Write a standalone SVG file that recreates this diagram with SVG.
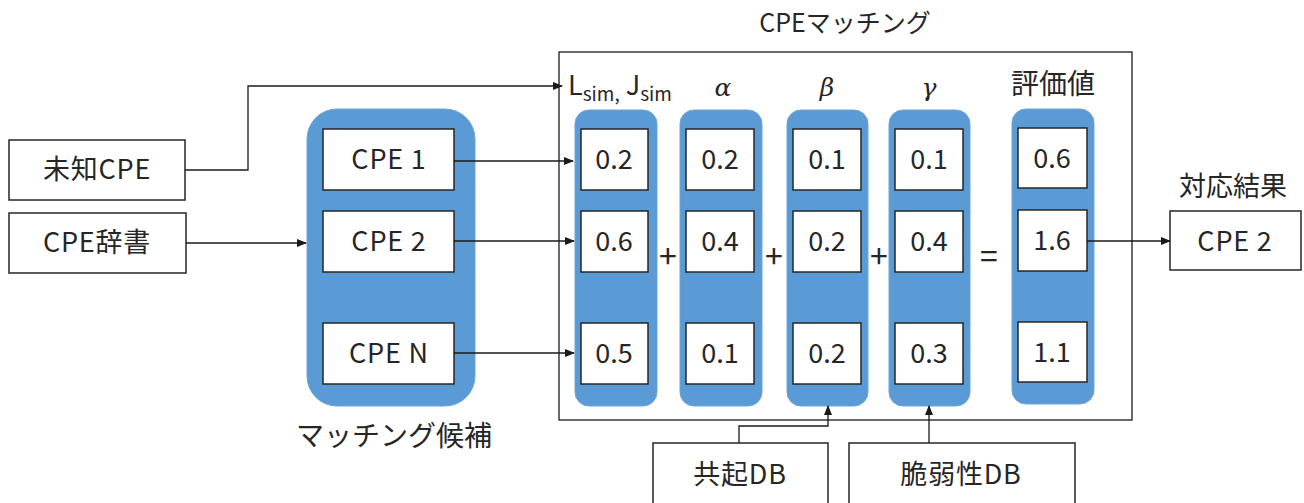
<svg xmlns="http://www.w3.org/2000/svg" width="1304" height="503" viewBox="0 0 1304 503">
<style>
text{font-family:"Noto Sans CJK JP","Noto Sans",sans-serif;fill:#262626;font-size:27px;text-anchor:middle}
.lat{letter-spacing:0.8px}
.box{fill:#fff;stroke:#262626;stroke-width:1.5}
.col{fill:#5B9BD5;stroke:#6FA3D6;stroke-width:1}
.ln{fill:none;stroke:#1a1a1a;stroke-width:1.3}
.gk{font-style:italic;font-family:"DejaVu Serif","Liberation Serif",serif;font-size:25px}
.op{font-size:32px}
</style>
<defs>
<marker id="ah" markerWidth="10" markerHeight="8" refX="9" refY="4" orient="auto" markerUnits="userSpaceOnUse">
<path d="M0,0 L10,4 L0,8 z" fill="#1a1a1a"/>
</marker>
</defs>
<rect width="1304" height="503" fill="#fff"/>

<g id="frame">
<rect x="559" y="52" width="573" height="368" fill="none" stroke="#1a1a1a" stroke-width="1.3"/>
<text x="845" y="32" style="font-size:25px">CPEマッチング</text>
</g>

<g id="unknown">
<rect class="box" x="9" y="140" width="176" height="60"/>
<text class="lat" x="97" y="179">未知CPE</text>
</g>
<g id="dict">
<rect class="box" x="9" y="213" width="177" height="60"/>
<text class="lat" x="97" y="252">CPE辞書</text>
</g>

<g id="candidates">
<rect class="col" x="307" y="109" width="168" height="297" rx="30"/>
<rect class="box" x="323" y="129" width="131" height="61"/>
<text class="lat" x="389" y="169">CPE 1</text>
<rect class="box" x="323" y="211" width="131" height="61"/>
<text class="lat" x="389" y="251">CPE 2</text>
<rect class="box" x="323" y="323" width="131" height="61"/>
<text class="lat" x="389" y="363">CPE N</text>
<text x="394" y="446" style="font-size:28px">マッチング候補</text>
</g>

<g id="col-sim">
<text x="620" y="95">L<tspan font-size="19" dy="6">sim,</tspan><tspan dy="-6"> J</tspan><tspan font-size="19" dy="6">sim</tspan></text>
<rect class="col" x="575" y="110" width="82" height="296" rx="14"/>
<rect class="box" x="581" y="129" width="67" height="61"/><text x="614" y="169">0.2</text>
<rect class="box" x="581" y="211" width="67" height="61"/><text x="614" y="251">0.6</text>
<rect class="box" x="581" y="323" width="67" height="61"/><text x="614" y="363">0.5</text>
</g>

<g id="col-alpha">
<text class="gk" x="723" y="96">α</text>
<rect class="col" x="680" y="110" width="82" height="296" rx="14"/>
<rect class="box" x="686" y="129" width="68" height="61"/><text x="720" y="169">0.2</text>
<rect class="box" x="686" y="211" width="68" height="61"/><text x="720" y="251">0.4</text>
<rect class="box" x="686" y="323" width="68" height="61"/><text x="720" y="363">0.1</text>
</g>

<g id="col-beta">
<text class="gk" x="827" y="96">β</text>
<rect class="col" x="787" y="110" width="81" height="296" rx="14"/>
<rect class="box" x="793" y="129" width="68" height="61"/><text x="827" y="169">0.1</text>
<rect class="box" x="793" y="211" width="68" height="61"/><text x="827" y="251">0.2</text>
<rect class="box" x="793" y="323" width="68" height="61"/><text x="827" y="363">0.2</text>
</g>

<g id="col-gamma">
<text class="gk" x="929" y="96">γ</text>
<rect class="col" x="889" y="110" width="81" height="296" rx="14"/>
<rect class="box" x="895" y="129" width="68" height="61"/><text x="929" y="169">0.1</text>
<rect class="box" x="895" y="211" width="68" height="61"/><text x="929" y="251">0.4</text>
<rect class="box" x="895" y="323" width="68" height="61"/><text x="929" y="363">0.3</text>
</g>

<g id="col-score">
<text x="1053" y="94" style="font-size:28px">評価値</text>
<rect class="col" x="1012" y="109" width="82" height="295" rx="14"/>
<rect class="box" x="1018" y="128" width="69" height="60"/><text x="1052" y="168">0.6</text>
<rect class="box" x="1018" y="210" width="69" height="61"/><text x="1052" y="250">1.6</text>
<rect class="box" x="1018" y="322" width="69" height="60"/><text x="1052" y="362">1.1</text>
</g>

<g id="operators">
<text class="op" x="668" y="268">+</text>
<text class="op" x="774" y="268">+</text>
<text class="op" x="879" y="268">+</text>
<text class="op" x="989" y="268">=</text>
</g>

<g id="result">
<text x="1233" y="196">対応結果</text>
<rect class="box" x="1170" y="211" width="131" height="59"/>
<text class="lat" x="1235" y="251">CPE 2</text>
</g>

<g id="cooc">
<rect class="box" x="653" y="443" width="175" height="70"/>
<text class="lat" x="740" y="484">共起DB</text>
</g>
<g id="vuln">
<rect class="box" x="849" y="443" width="226" height="70"/>
<text class="lat" x="961" y="484">脆弱性DB</text>
</g>

<g id="connectors">
<polyline class="ln" points="185,170 248,170 248,86 562,86" marker-end="url(#ah)"/>
<line class="ln" x1="186" y1="243" x2="306" y2="243" marker-end="url(#ah)"/>
<line class="ln" x1="454" y1="161" x2="573" y2="161" marker-end="url(#ah)"/>
<line class="ln" x1="454" y1="241" x2="574" y2="241" marker-end="url(#ah)"/>
<line class="ln" x1="454" y1="353" x2="574" y2="353" marker-end="url(#ah)"/>
<line class="ln" x1="1087" y1="241" x2="1170" y2="241" marker-end="url(#ah)"/>
<polyline class="ln" points="739,443 739,426 828,426 828,406" marker-end="url(#ah)"/>
<line class="ln" x1="929" y1="443" x2="929" y2="406" marker-end="url(#ah)"/>
</g>
</svg>
